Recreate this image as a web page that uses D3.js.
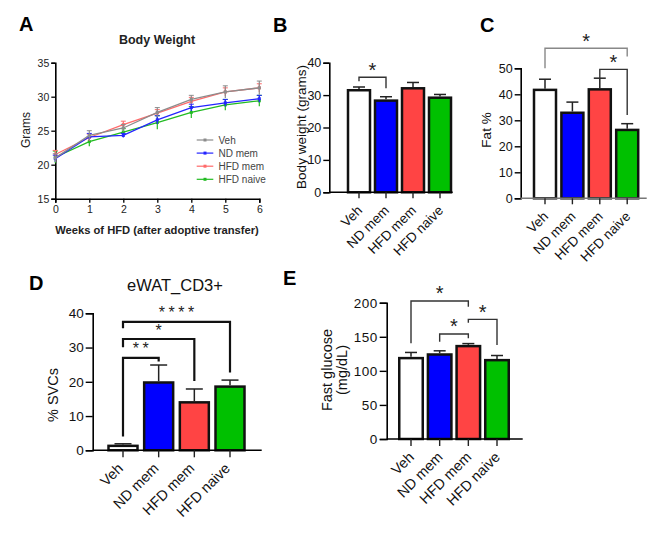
<!DOCTYPE html>
<html><head><meta charset="utf-8">
<script src="https://cdn.jsdelivr.net/npm/d3@7"></script>
<style>body{margin:0;background:#fff}svg{font-family:"Liberation Sans",Arial,sans-serif}</style>
</head><body><svg id="c" width="669" height="535"></svg>
<script>
// ---------- DATA ----------
const groups = ["Veh", "ND mem", "HFD mem", "HFD naive"];
const barColors = ["#ffffff", "#0000ff", "#ff4444", "#00c000"];
const lineColors = ["#8c8c8c", "#2424ff", "#ff6a6a", "#22bb22"];

const weeks = [0, 1, 2, 3, 4, 5, 6];
const bwVeh = [21.0, 24.3, 25.4, 27.7, 29.6, 30.7, 31.3];
const bwVehErr = [0.6, 0.7, 0.5, 0.7, 0.6, 0.9, 1.0];
const bwND = [20.9, 24.1, 24.3, 26.6, 28.4, 29.1, 29.7];
const bwNDErr = [0.5, 0.5, 0.3, 0.6, 0.5, 0.5, 0.5];
const bwHFDmem = [21.5, 24.0, 25.9, 27.6, 29.3, 30.7, 31.3];
const bwHFDmemErr = [0.6, 0.5, 0.5, 0.5, 0.6, 0.6, 0.6];
const bwHFDnaive = [21.1, 23.4, 24.8, 26.2, 27.7, 28.8, 29.4];
const bwHFDnaiveErr = [0.9, 0.7, 0.5, 1.0, 0.85, 0.8, 0.8];
const weekTicks = [0, 1, 2, 3, 4, 5, 6];
const gramTicks = [15, 20, 25, 30, 35];

const finalWeight = [31.5, 28.3, 32.1, 29.2];
const finalWeightErr = [1.0, 1.2, 1.8, 1.0];
const finalWeightTicks = [0, 10, 20, 30, 40];
// [from, to, bracketY, leftLegEnd, rightLegEnd, label]
const finalWeightSig = [[0, 1, 35.5, 34.3, 32.1, "*"]];

const fatPct = [41.7, 32.9, 41.9, 26.3];
const fatPctErr = [4.1, 4.1, 4.3, 2.4];
const fatTicks = [0, 10, 20, 30, 40, 50];
const fatSig = [[0, 3, 57.7, 50.0, 54.5, "*"], [2, 3, 49.6, 45.9, 32.0, "*"]];

const cd3Pct = [1.3, 19.8, 14.0, 18.6];
const cd3PctErr = [0.6, 5.1, 3.9, 1.9];
const cd3Ticks = [0, 10, 20, 30, 40];
const cd3Sig = [[0, 1, 27.0, 4.0, 25.9, "**"], [0, 2, 32.5, 30.1, 20.2, "*"], [0, 3, 37.5, 35.6, 22.7, "****"]];

const glucose = [118.7, 124.0, 136.3, 115.7];
const glucoseErr = [8.3, 5.4, 3.7, 6.8];
const glucoseTicks = [0, 50, 100, 150, 200];
const glucoseSig = [[0, 2, 202.5, 140.4, 194.1, "*"], [1, 2, 154.0, 142.8, 147.8, "*"], [2, 3, 175.6, 170.6, 137.9, "*"]];

// ---------- DRAW ----------
const svg = d3.select("#c");

function panelLetter(t, x, y) {
  svg.append("text").attr("x", x).attr("y", y).attr("font-size", 20).attr("font-weight", "bold").text(t);
}
panelLetter("A", 19, 31);
panelLetter("B", 273, 32);
panelLetter("C", 480, 32);
panelLetter("D", 29, 290);
panelLetter("E", 283, 285);

// ----- Panel A -----
(function () {
  const x = d3.scaleLinear().domain([0, 6]).range([55.3, 259.3]);
  const y = d3.scaleLinear().domain([15, 35]).range([198.7, 62.7]);
  const g = svg.append("g");
  g.append("text").attr("x", 157).attr("y", 44).attr("text-anchor", "middle").attr("font-size", 12.5).attr("font-weight", "bold").attr("fill", "#222").text("Body Weight");
  const xa = g.append("g").attr("transform", `translate(0,${y(15)})`).call(d3.axisBottom(x).tickValues(weekTicks).tickFormat(d3.format("d")).tickSize(4).tickPadding(3));
  const ya = g.append("g").attr("transform", `translate(${x(0)},0)`).call(d3.axisLeft(y).tickValues(gramTicks).tickFormat(d3.format("d")).tickSize(4).tickPadding(2));
  [xa, ya].forEach(a => {
    a.select(".domain").attr("stroke", "#000").attr("stroke-width", 1.6);
    a.selectAll(".tick line").attr("stroke", "#000").attr("stroke-width", 1.3);
    a.selectAll("text").attr("font-size", 10.5).attr("fill", "#222").attr("font-family", "Liberation Sans, Arial");
  });
  g.append("text").attr("transform", `translate(30,130) rotate(-90)`).attr("text-anchor", "middle").attr("font-size", 12).attr("fill", "#222").text("Grams");
  g.append("text").attr("x", 157).attr("y", 234).attr("text-anchor", "middle").attr("font-size", 11.2).attr("font-weight", "bold").attr("fill", "#222").text("Weeks of HFD (after adoptive transfer)");

  const series = [
    [bwHFDnaive, bwHFDnaiveErr, 3],
    [bwHFDmem, bwHFDmemErr, 2],
    [bwND, bwNDErr, 1],
    [bwVeh, bwVehErr, 0]
  ];
  const line = d3.line().x((d, i) => x(weeks[i])).y(d => y(d));
  series.forEach(([vals, errs, ci]) => {
    const c = lineColors[ci];
    const sg = g.append("g");
    sg.selectAll("line.err").data(vals).join("line")
      .attr("x1", (d, i) => x(weeks[i])).attr("x2", (d, i) => x(weeks[i]))
      .attr("y1", (d, i) => y(d - errs[i])).attr("y2", (d, i) => y(d + errs[i]))
      .attr("stroke", c).attr("stroke-width", 1.2);
    sg.selectAll("line.capT").data(vals).join("line")
      .attr("x1", (d, i) => x(weeks[i]) - 2.5).attr("x2", (d, i) => x(weeks[i]) + 2.5)
      .attr("y1", (d, i) => y(d + errs[i])).attr("y2", (d, i) => y(d + errs[i]))
      .attr("stroke", c).attr("stroke-width", 1);
    sg.append("path").datum(vals).attr("d", line).attr("fill", "none").attr("stroke", c).attr("stroke-width", 1.3);
    sg.selectAll("rect").data(vals).join("rect")
      .attr("x", (d, i) => x(weeks[i]) - 1.5).attr("y", d => y(d) - 1.5)
      .attr("width", 3).attr("height", 3).attr("fill", c);
  });
  // legend
  const lg = g.append("g");
  const legY = d3.scalePoint().domain(groups).range([140, 179.3]);
  groups.forEach((name, i) => {
    const yy = legY(name);
    lg.append("line").attr("x1", 196.7).attr("x2", 213.3).attr("y1", yy).attr("y2", yy).attr("stroke", lineColors[i]).attr("stroke-width", 1.2);
    lg.append("rect").attr("x", 203.5).attr("y", yy - 1.5).attr("width", 3).attr("height", 3).attr("fill", lineColors[i]);
    lg.append("text").attr("x", 218.5).attr("y", yy + 3.5).attr("font-size", 10).attr("fill", "#444").text(name);
  });
})();

// ----- Bar panels -----
function barPanel(cfg) {
  const g = svg.append("g");
  const x = d3.scalePoint().domain(groups).range([cfg.c0, cfg.c1]);
  const y = d3.scaleLinear().domain([0, cfg.ticks[cfg.ticks.length - 1]]).range([cfg.y0, cfg.yTop]);
  // bars
  g.selectAll("rect.bar").data(cfg.vals).join("rect")
    .attr("x", (d, i) => x(groups[i]) - cfg.bw / 2).attr("y", d => y(d))
    .attr("width", cfg.bw).attr("height", d => y(0) - y(d))
    .attr("fill", (d, i) => barColors[i]).attr("stroke", "#111").attr("stroke-width", cfg.sw);
  // error bars (upper only)
  g.selectAll("line.e").data(cfg.vals).join("line")
    .attr("x1", (d, i) => x(groups[i])).attr("x2", (d, i) => x(groups[i]))
    .attr("y1", d => y(d) - cfg.sw / 2).attr("y2", (d, i) => y(d + cfg.errs[i]))
    .attr("stroke", "#222").attr("stroke-width", 1.5);
  g.selectAll("line.c").data(cfg.vals).join("line")
    .attr("x1", (d, i) => x(groups[i]) - cfg.cap / 2).attr("x2", (d, i) => x(groups[i]) + cfg.cap / 2)
    .attr("y1", (d, i) => y(d + cfg.errs[i])).attr("y2", (d, i) => y(d + cfg.errs[i]))
    .attr("stroke", "#222").attr("stroke-width", 1.5);
  // y axis
  const ya = g.append("g").attr("transform", `translate(${cfg.ax},0)`).call(d3.axisLeft(y).tickValues(cfg.ticks).tickSize(cfg.tick).tickPadding(2).tickFormat(d3.format("d")));
  ya.select(".domain").attr("stroke", "#000").attr("stroke-width", 1.6);
  ya.selectAll(".tick line").attr("stroke", "#000").attr("stroke-width", 1.4);
  ya.selectAll("text").attr("font-size", cfg.fs).attr("fill", "#111").attr("font-family", "Liberation Sans, Arial").attr("font-weight", cfg.fw).attr("letter-spacing", cfg.ls);
  // x axis
  g.append("line").attr("x1", cfg.ax).attr("x2", cfg.axEnd).attr("y1", y(0)).attr("y2", y(0)).attr("stroke", cfg.xcol).attr("stroke-width", 1.6);
  g.selectAll("line.xt").data(groups).join("line")
    .attr("x1", d => x(d)).attr("x2", d => x(d)).attr("y1", y(0)).attr("y2", y(0) + cfg.tick)
    .attr("stroke", "#222").attr("stroke-width", 1.4);
  g.selectAll("text.xl").data(groups).join("text")
    .attr("transform", d => `translate(${x(d) + cfg.lx},${y(0) + cfg.ly}) rotate(-45)`)
    .attr("text-anchor", "end").attr("font-size", cfg.xfs).attr("fill", "#111").attr("font-weight", cfg.fw).text(d => d);
  // y label
  cfg.ylab.forEach((t, k) => {
    g.append("text").attr("transform", `translate(${cfg.ylx + k * cfg.ylGap},${cfg.yly}) rotate(-90)`)
      .attr("text-anchor", "middle").attr("font-size", cfg.ylfs).attr("font-weight", cfg.ylfw).attr("fill", "#111").text(t);
  });
  // significance brackets
  cfg.sig.forEach(([a, b, yv, l1, l2, lab], k) => {
    const xa = x(groups[a]), xb = x(groups[b]);
    g.append("path").attr("d", `M${xa},${y(l1)}V${y(yv)}H${xb}V${y(l2)}`)
      .attr("fill", "none").attr("stroke", cfg.bcols ? cfg.bcols[k] : cfg.bcol).attr("stroke-width", cfg.bsw);
    g.append("text").attr("x", (xa + xb) / 2 + cfg.sls / 2).attr("y", y(yv) - cfg.sdy + (cfg.sfs * 0.57 - 12)).attr("text-anchor", "middle")
      .attr("font-size", cfg.sfs).attr("fill", "#222").attr("letter-spacing", cfg.sls).text(lab);
  });
  if (cfg.title) {
    g.append("text").attr("x", cfg.title[1]).attr("y", cfg.title[2]).attr("text-anchor", "middle").attr("font-size", 16.5).attr("fill", "#111").text(cfg.title[0]);
  }
}

barPanel({
  vals: finalWeight, errs: finalWeightErr, ticks: finalWeightTicks, sig: finalWeightSig,
  ax: 329.3, axEnd: 452.7, y0: 192.3, yTop: 62.7, c0: 359, c1: 440, bw: 22, cap: 12, sw: 2.5, tick: 6,
  fs: 12.5, xfs: 13.5, fw: "normal", ls: 0, lx: 4, ly: 19, xcol: "#000",
  ylab: ["Body weight (grams)"], ylx: 306, yly: 127, ylGap: 0, ylfs: 13.5, ylfw: "normal",
  bcol: "#333", bsw: 1.4, sdy: 0, sfs: 20, sls: 0
});
barPanel({
  vals: fatPct, errs: fatPctErr, ticks: fatTicks, sig: fatSig,
  ax: 520.7, axEnd: 646.7, y0: 198.3, yTop: 68.3, c0: 545, c1: 627.2, bw: 22, cap: 12, sw: 2.5, tick: 6,
  fs: 12.5, xfs: 13.5, fw: "normal", ls: 0, lx: 4, ly: 19, xcol: "#777",
  ylab: ["Fat %"], ylx: 491, yly: 130, ylGap: 0, ylfs: 13.5, ylfw: "normal",
  bcol: "#555", bcols: ["#888", "#333"], bsw: 1.4, sdy: 0, sfs: 20, sls: 0
});
barPanel({
  vals: cd3Pct, errs: cd3PctErr, ticks: cd3Ticks, sig: cd3Sig,
  ax: 92.7, axEnd: 261.7, y0: 450.3, yTop: 313.3, c0: 123, c1: 230, bw: 29, cap: 17, sw: 2.5, tick: 7,
  fs: 13.5, xfs: 14.5, fw: "normal", ls: 0, lx: 1, ly: 19, xcol: "#000",
  ylab: ["% SVCs"], ylx: 58, yly: 395, ylGap: 0, ylfs: 14.5, ylfw: "normal",
  bcol: "#111", bsw: 2.2, sdy: 0.5, sfs: 16, sls: 3.5,
  title: ["eWAT_CD3+", 175, 291]
});
barPanel({
  vals: glucose, errs: glucoseErr, ticks: glucoseTicks, sig: glucoseSig,
  ax: 386.7, axEnd: 522.7, y0: 439, yTop: 302.7, c0: 411, c1: 497, bw: 23.5, cap: 12, sw: 2.5, tick: 7,
  fs: 13.5, xfs: 14.5, fw: "normal", ls: 0.5, lx: 4, ly: 19, xcol: "#000",
  ylab: ["Fast glucose", "(mg/dL)"], ylx: 332, yly: 370, ylGap: 15, ylfs: 14.5, ylfw: "normal",
  bcol: "#333", bsw: 1.4, sdy: 0, sfs: 20, sls: 0
});
</script></body></html>
